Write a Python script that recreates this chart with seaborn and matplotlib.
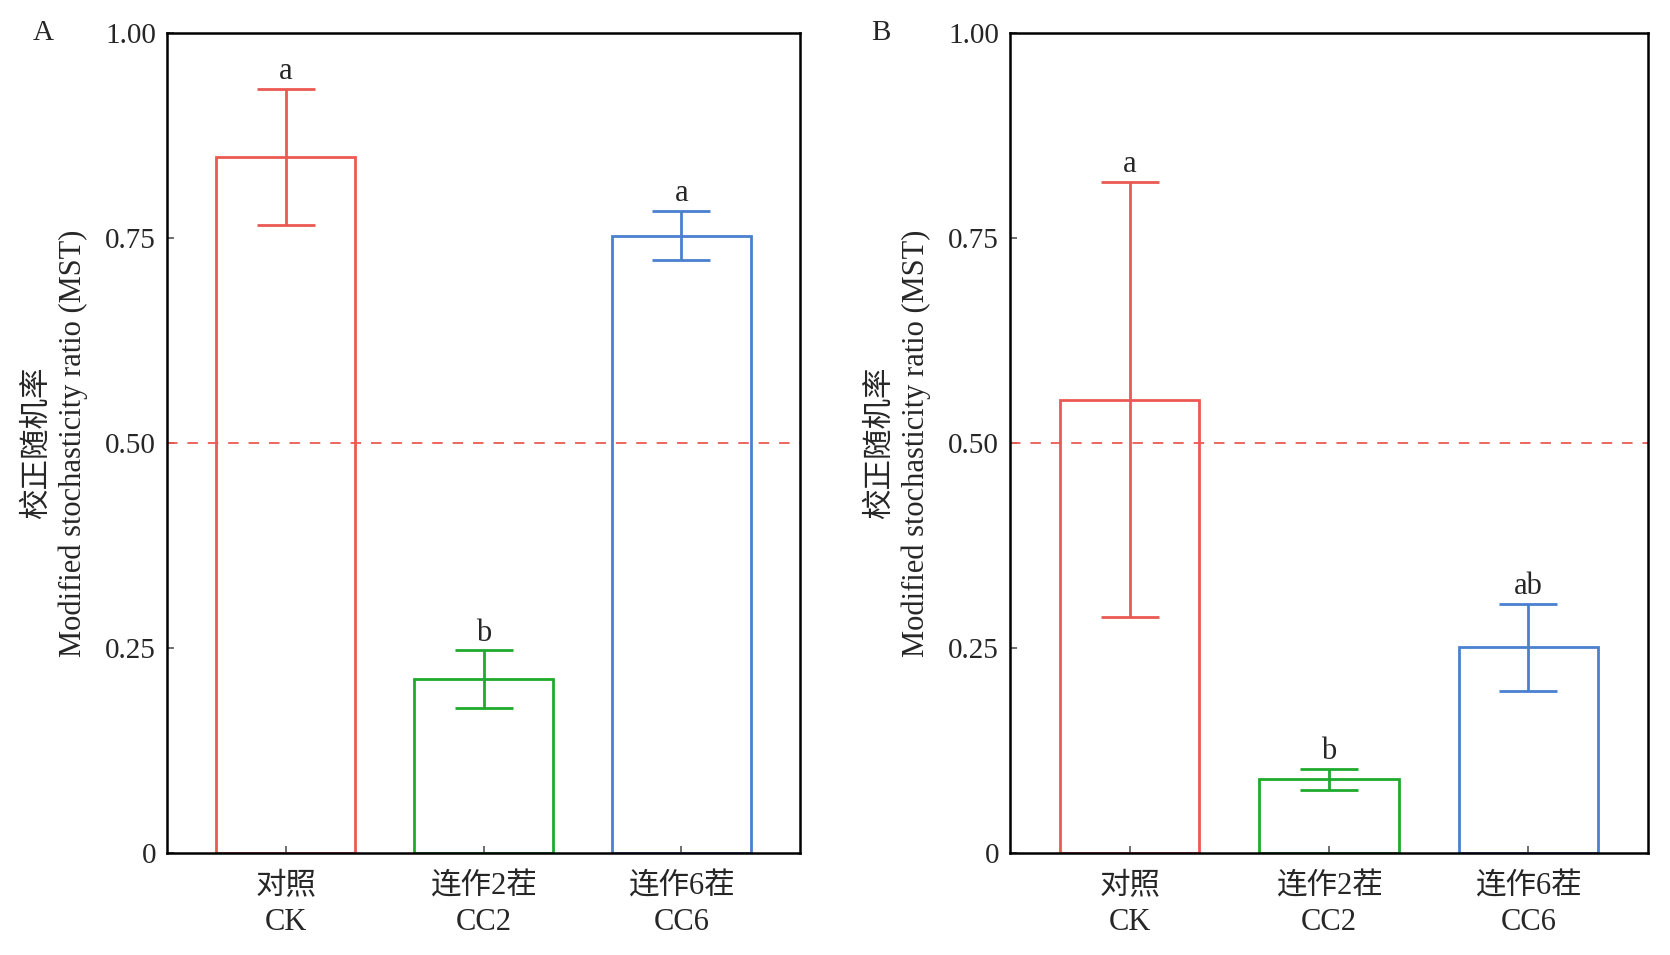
import numpy as np
import pandas as pd
import matplotlib
matplotlib.use("Agg")
import matplotlib.pyplot as plt
import seaborn as sns

categories = ["对照\nCK", "连作2茬\nCC2", "连作6茬\nCC6"]
colors = ["#EB5A52", "#1EAA2C", "#4A80CF"]

mean_A = [0.849, 0.212, 0.753]
err_A = [0.083, 0.035, 0.030]
letters_A = ["a", "b", "a"]

mean_B = [0.553, 0.090, 0.251]
err_B = [0.265, 0.013, 0.053]
letters_B = ["a", "b", "ab"]

ytick_vals = [0, 0.25, 0.50, 0.75, 1.00]
ytick_labels = ["0", "0.25", "0.50", "0.75", "1.00"]

sns.set_theme(style="white")
plt.rcParams["font.family"] = ["Liberation Serif", "Noto Sans CJK SC", "DejaVu Sans"]
plt.rcParams["axes.unicode_minus"] = False

fig = plt.figure(figsize=(16.7, 9.55), dpi=100)
W, H = 1670, 955
axA = fig.add_axes([167 / W, 1 - 853 / H, (800 - 167) / W, (853 - 33) / H])
axB = fig.add_axes([1010 / W, 1 - 853 / H, (1648 - 1010) / W, (853 - 33) / H])

fs = 22

def draw(ax, means, errs, letters, panel):
    df = pd.DataFrame({"cat": categories, "val": means})
    sns.barplot(data=df, x="cat", y="val", hue="cat", palette=colors,
                fill=False, width=0.7, linewidth=2.0, legend=False, ax=ax,
                errorbar=None, saturation=1)
    for i, (m, e, c, l) in enumerate(zip(means, errs, colors, letters)):
        ax.errorbar(i, m, yerr=e, color=c, capsize=21, capthick=2.0,
                    elinewidth=2.0, fmt="none")
        ax.text(i, m + e + 0.012, l, ha="center", va="baseline", fontsize=fs)
    ax.axhline(0.5, color="#EB5A52", linestyle=(0, (5.8, 5.5)), linewidth=1.3)
    ax.set_xlim(-0.6, 2.6)
    ax.set_ylim(0, 1.0)
    ax.set_yticks(ytick_vals)
    ax.set_yticklabels(ytick_labels, fontsize=21)
    ax.set_xticks(range(3))
    ax.set_xticklabels(categories, fontsize=fs, linespacing=1.32)
    ax.set_xlabel("")
    ax.set_ylabel("校正随机率\nModified stochasticity ratio (MST)", fontsize=fs,
                  linespacing=1.3, labelpad=12)
    ax.tick_params(axis="y", direction="in", length=5, width=1.2,
                   color="#555555", left=True, pad=8)
    ax.tick_params(axis="x", direction="in", length=5, width=1.2,
                   color="#555555", bottom=True, pad=14)
    for s in ax.spines.values():
        s.set_visible(True)
        s.set_color("black")
        s.set_linewidth(1.8)
    xoff = -0.196 if panel == "A" else -0.202
    ax.text(xoff, 1.0, panel, transform=ax.transAxes,
            fontsize=21, ha="center", va="center")

draw(axA, mean_A, err_A, letters_A, "A")
draw(axB, mean_B, err_B, letters_B, "B")

fig.savefig("out.png", dpi=100)
